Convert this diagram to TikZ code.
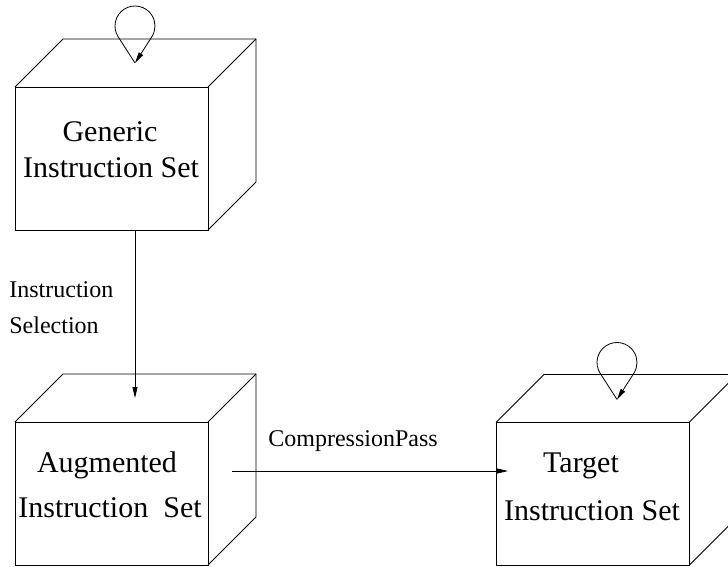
\documentclass[tikz,border=0pt]{standalone}
\usepackage{fontspec}
\setmainfont{Liberation Serif}
\usetikzlibrary{arrows.meta,calc}

% back edges of a cube whose front face is the node #1
\newcommand\cubeback[1]{%
  \draw (#1.north west) -- ++(48,-48) -- ++(193,0) -- ++(0,143) -- (#1.south east);
  \draw (#1.north east) -- ++(48,-48);
}
% self loop whose point sits at the coordinate #1
\newcommand\selfloop[1]{%
  \draw[flow] (#1) -- ($(#1)+(0,-37)+(147.3:20)$)
    arc[start angle=147.3,end angle=392.7,radius=20] -- (#1);
}

\begin{document}
\begin{tikzpicture}[x=1pt,y=-1pt,line width=0.8pt,
  face/.style={draw,minimum width=193pt,minimum height=143pt,inner sep=0pt,outer sep=0pt},
  big/.style={font=\fontsize{30}{36}\selectfont,anchor=base,inner sep=0pt},
  small/.style={font=\fontsize{24}{28}\selectfont,anchor=base west,inner sep=0pt},
  flow/.style={-{Triangle[length=11pt,width=5pt]}},
]
\clip[use as bounding box] (0,0) rectangle (728,567);

% cubes
\node[face] (gen) at (111.5,158.5) {};
\node[face] (aug) at (111.5,493.5) {};
\node[face] (tgt) at (592.5,494) {};
\cubeback{gen}
\cubeback{aug}
\cubeback{tgt}

% cube labels
\node[big] (gen1) at (110,142) {Generic};
\node[big] (gen2) at (111,177) {Instruction Set};
\node[big] (aug1) at (107,472) {Augmented};
\node[big] (aug2) at (110,517) {Instruction\ \ Set};
\node[big] (tgt1) at (581,472) {Target};
\node[big] (tgt2) at (592,520) {Instruction Set};

% self loops on top of the cubes
\coordinate (genloop) at ($(gen.north)+(23.5,-24)$);
\coordinate (tgtloop) at ($(tgt.north)+(24.5,-23)$);
\selfloop{genloop}
\selfloop{tgtloop}

% instruction selection
\coordinate (selfrom) at ($(gen.south)+(23.5,0)$);
\coordinate (selto) at ($(aug.north)+(23.5,-24)$);
\draw[flow] (selfrom) -- (selto);
\node[small] (sel1) at (9,297) {Instruction};
\node[small] (sel2) at (9,333) {Selection};

% compression pass
\coordinate (cpfrom) at ($(aug.east)+(24,-22.5)$);
\coordinate (cpto) at ($(tgt.west)+(12,-23)$);
\draw[flow] (cpfrom) -- (cpto);
\node[small] (cp) at (268,446) {CompressionPass};
\end{tikzpicture}
\end{document}
